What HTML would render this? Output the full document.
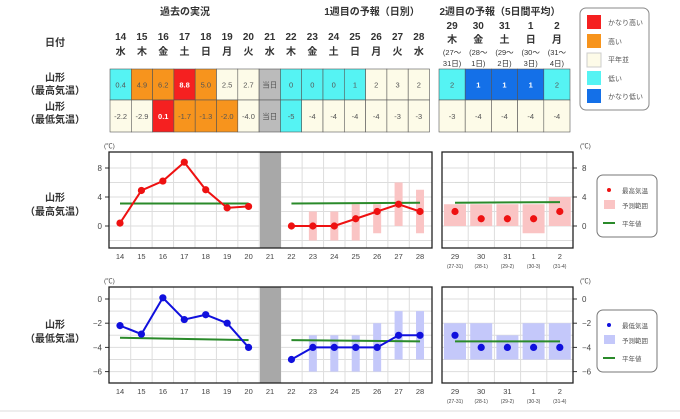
<!DOCTYPE html>
<html><head><meta charset="utf-8"><style>
body{margin:0;background:#fff;width:680px;height:414px;overflow:hidden;font-family:"Liberation Sans","Noto Sans CJK JP",sans-serif}
svg text{font-family:"Liberation Sans","Noto Sans CJK JP",sans-serif}
</style></head><body>
<svg id="s" width="680" height="414" xmlns="http://www.w3.org/2000/svg">
<g font-size="10" fill="#333" text-anchor="middle" font-weight="bold">
<text x="185" y="15">過去の実況</text>
<text x="372" y="15">1週目の予報（日別）</text>
<text x="500" y="15">2週目の予報（5日間平均）</text>
<text x="55" y="46">日付</text>
<text x="55" y="81">山形</text><text x="55" y="94">（最高気温）</text>
<text x="55" y="110">山形</text><text x="55" y="123">（最低気温）</text>
<text x="55" y="201">山形</text><text x="55" y="215">（最高気温）</text>
<text x="55" y="328">山形</text><text x="55" y="342">（最低気温）</text>
</g>
<g id="g"></g>
<rect x="580" y="8" width="69" height="102" rx="6" fill="#fff" stroke="#888"/>
<g font-size="7" fill="#555">
<rect x="587" y="15" width="14" height="14" fill="#f52020"/><text x="608" y="25">かなり高い</text>
<rect x="587" y="34" width="14" height="14" fill="#f7941d"/><text x="608" y="44">高い</text>
<rect x="587" y="53" width="14" height="14" fill="#fdfbe8" stroke="#ccc"/><text x="608" y="62">平年並</text>
<rect x="587" y="71" width="14" height="14" fill="#55f3f3"/><text x="608" y="81">低い</text>
<rect x="587" y="89" width="14" height="14" fill="#1470e8"/><text x="608" y="99">かなり低い</text>
</g>
<line x1="0" y1="411" x2="680" y2="411" stroke="#ddd"/>
</svg>
<script>
const g=document.getElementById('g');let h='';
const C={c:'#55f3f3',o:'#f7941d',r:'#f52020',w:'#fdfbe8',b:'#1470e8',g:'#bbbbbb'};
const wd=['水','木','金','土','日','月','火','水','木','金','土','日','月','火','水'];
const cw=21.3,x0=110;
for(let i=0;i<15;i++){let cx=x0+cw*i+cw/2;h+=`<text x="${cx}" y="40" font-size="10" font-weight="bold" text-anchor="middle" fill="#333">${14+i}</text><text x="${cx}" y="55" font-size="10" font-weight="bold" text-anchor="middle" fill="#333">${wd[i]}</text>`;}
const r1=[['0.4','c'],['4.9','o'],['6.2','o'],['8.8','r'],['5.0','o'],['2.5','w'],['2.7','w'],['当日','g'],['0','c'],['0','c'],['0','c'],['1','c'],['2','w'],['3','w'],['2','w']];
const r2=[['-2.2','w'],['-2.9','w'],['0.1','r'],['-1.7','o'],['-1.3','o'],['-2.0','o'],['-4.0','w'],['当日','g'],['-5','c'],['-4','w'],['-4','w'],['-4','w'],['-4','w'],['-3','w'],['-3','w']];
function cell(x,y,w,hh,v,k){let white=(k=='r'||k=='b');h+=`<rect x="${x}" y="${y}" width="${w}" height="${hh}" fill="${C[k]}" stroke="#555" stroke-width="0.6"/><text x="${x+w/2}" y="${y+hh/2+3}" font-size="7.5" text-anchor="middle" fill="${white?'#fff':'#555'}" ${white?'font-weight="bold"':''}>${v}</text>`;}
r1.forEach((a,i)=>cell(x0+cw*i,69,cw,31,a[0],a[1]));
r2.forEach((a,i)=>cell(x0+cw*i,100,cw,32,a[0],a[1]));
const w2=26.2,x2=439;const d2=['29','30','31','1','2'],w2d=['木','金','土','日','月'],p1=['(27〜','(28〜','(29〜','(30〜','(31〜'],p2=['31日)','1日)','2日)','3日)','4日)'];
const s1=[['2','c'],['1','b'],['1','b'],['1','b'],['2','c']];
for(let i=0;i<5;i++){let cx=x2+w2*i+w2/2;h+=`<text x="${cx}" y="29" font-size="10" font-weight="bold" text-anchor="middle" fill="#333">${d2[i]}</text><text x="${cx}" y="43" font-size="10" font-weight="bold" text-anchor="middle" fill="#333">${w2d[i]}</text><text x="${cx}" y="55" font-size="7.5" text-anchor="middle" fill="#333">${p1[i]}</text><text x="${cx}" y="66" font-size="7.5" text-anchor="middle" fill="#333">${p2[i]}</text>`;
cell(x2+w2*i,69,w2,31,s1[i][0],s1[i][1]);cell(x2+w2*i,100,w2,32,['-3','-4','-4','-4','-4'][i],'w');}
// charts
const dx=d=>120+(d-14)*21.43;
function chart(top,bot,y0,k,ticks,col,rc,vals1,vals2,rng,nrm1,nrm2,w2v,w2r,w2n,leg,lname){
 const Y=v=>y0-k*v;
 h+=`<rect x="109" y="${top}" width="323" height="${bot-top}" fill="#fff"/>`;
 for(let d=14;d<28;d++){let x=dx(d)+10.7;h+=`<line x1="${x}" y1="${top}" x2="${x}" y2="${bot}" stroke="#ddd"/>`;}
 for(let i=0;i<4;i++){let x=442+26.2*(i+1);h+=`<line x1="${x}" y1="${top}" x2="${x}" y2="${bot}" stroke="#ddd"/>`;}
 ticks.forEach(v=>{let y=Y(v);if(y>top&&y<bot){h+=`<line x1="109" y1="${y}" x2="432" y2="${y}" stroke="#ddd"/><line x1="442" y1="${y}" x2="573" y2="${y}" stroke="#ddd"/>`;}});
 ticks.filter((v,i)=>i%2==0).forEach(v=>{let y=Y(v);if(y>top&&y<bot){let t=String(v).replace('-','−');h+=`<text x="102" y="${y+3}" font-size="8" text-anchor="end" fill="#444">${t}</text><text x="582" y="${y+3}" font-size="8" fill="#444">${t}</text><line x1="573" y1="${y}" x2="577" y2="${y}" stroke="#333"/><line x1="105" y1="${y}" x2="109" y2="${y}" stroke="#333"/>`;}});
 h+=`<text x="104" y="${top-4}" font-size="6.5" fill="#444">(℃)</text><text x="580" y="${top-4}" font-size="6.5" fill="#444">(℃)</text>`;
 h+=`<rect x="260" y="${top}" width="21" height="${bot-top}" fill="#a8a8a8"/>`;
 rng.forEach(a=>{h+=`<rect x="${dx(a[0])-4}" y="${Y(a[2])}" width="8" height="${Y(a[1])-Y(a[2])}" fill="${rc}"/>`;});
 w2r.forEach((a,i)=>{let cx=454+26.2*i+1;h+=`<rect x="${cx-11}" y="${Y(a[1])}" width="22" height="${Y(a[0])-Y(a[1])}" fill="${rc}"/>`;});
 h+=`<polyline points="${dx(14)},${Y(nrm1[0])} ${dx(20)},${Y(nrm1[1])}" stroke="#2a8a2a" stroke-width="2" fill="none"/><polyline points="${dx(22)},${Y(nrm2[0])} ${dx(28)},${Y(nrm2[1])}" stroke="#2a8a2a" stroke-width="2" fill="none"/><polyline points="455,${Y(w2n[0])} 560,${Y(w2n[1])}" stroke="#2a8a2a" stroke-width="2" fill="none"/>`;
 h+=`<polyline points="${vals1.map((v,i)=>dx(14+i)+','+Y(v)).join(' ')}" stroke="${col}" stroke-width="2" fill="none"/><polyline points="${vals2.map((v,i)=>dx(22+i)+','+Y(v)).join(' ')}" stroke="${col}" stroke-width="2" fill="none"/>`;
 vals1.forEach((v,i)=>h+=`<circle cx="${dx(14+i)}" cy="${Y(v)}" r="3.6" fill="${col}"/>`);
 vals2.forEach((v,i)=>h+=`<circle cx="${dx(22+i)}" cy="${Y(v)}" r="3.6" fill="${col}"/>`);
 w2v.forEach((v,i)=>h+=`<circle cx="${454+26.2*i+1}" cy="${Y(v)}" r="3.6" fill="${col}"/>`);
 h+=`<rect x="109" y="${top}" width="323" height="${bot-top}" fill="none" stroke="#222" stroke-width="1.3"/><rect x="442" y="${top}" width="131" height="${bot-top}" fill="none" stroke="#222" stroke-width="1.3"/>`;
 for(let d=14;d<=28;d++)h+=`<text x="${dx(d)}" y="${bot+11}" font-size="7.5" text-anchor="middle" fill="#444">${d}</text>`;
 const sub=['(27-31)','(28-1)','(29-2)','(30-3)','(31-4)'];
 for(let i=0;i<5;i++){let cx=454+26.2*i+1;h+=`<text x="${cx}" y="${bot+11}" font-size="7.5" text-anchor="middle" fill="#444">${d2[i]}</text><text x="${cx}" y="${bot+20}" font-size="5" text-anchor="middle" fill="#444">${sub[i]}</text>`;}
 let ly=leg;h+=`<rect x="597" y="${ly}" width="60" height="62" rx="6" fill="#fff" stroke="#777"/><circle cx="609" cy="${ly+15}" r="2" fill="${col}"/><text x="622" y="${ly+18}" font-size="6.5" fill="#555">${lname}</text><rect x="604" y="${ly+25}" width="11" height="9" fill="${rc}"/><text x="622" y="${ly+33}" font-size="6.5" fill="#555">予測範囲</text><line x1="603" y1="${ly+48}" x2="615" y2="${ly+48}" stroke="#2a8a2a" stroke-width="2"/><text x="622" y="${ly+51}" font-size="6.5" fill="#555">平年値</text>`;
}
chart(152,248,226,7.25,[8,6,4,2,0,-2],'#ee1111','#fac4c4',[0.4,4.9,6.2,8.8,5.0,2.5,2.7],[0,0,0,1,2,3,2],[[23,-2,2],[24,-2,2],[25,-2,3],[26,-1,3],[27,0,6],[28,-1,5]],[3.1,3.1],[3.1,3.2],[2,1,1,1,2],[[0,3],[0,3],[0,3],[-1,3],[0,4]],[3.2,3.3],175,'最高気温');
chart(287,383,299,12.1,[0,-1,-2,-3,-4,-5,-6],'#1010dd','#c4c8fa',[-2.2,-2.9,0.1,-1.7,-1.3,-2.0,-4.0],[-5,-4,-4,-4,-4,-3,-3],[[23,-6,-3],[24,-6,-3],[25,-6,-3],[26,-6,-2],[27,-5,-1],[28,-5,-1]],[-3.2,-3.4],[-3.4,-3.5],[-3,-4,-4,-4,-4],[[-5,-2],[-5,-2],[-5,-3],[-5,-2],[-5,-2]],[-3.5,-3.5],310,'最低気温');
g.innerHTML=h;
</script>
</body></html>
